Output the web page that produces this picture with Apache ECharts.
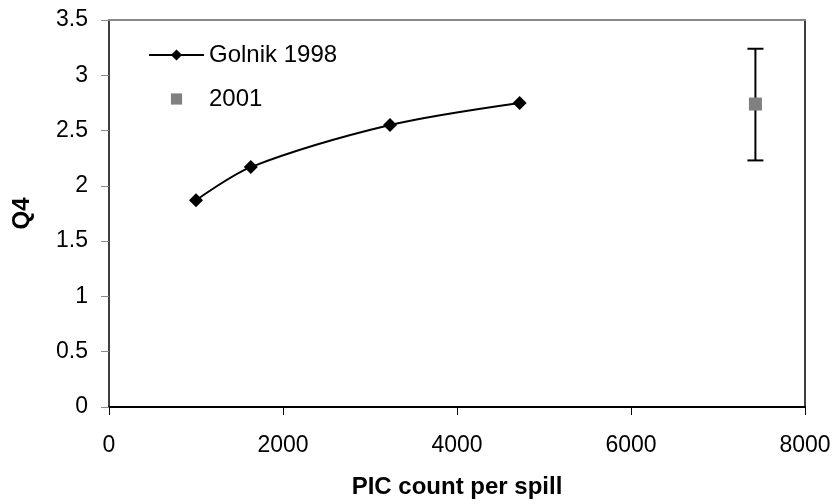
<!DOCTYPE html>
<html>
<head>
<meta charset="utf-8">
<script src="https://cdn.jsdelivr.net/npm/echarts@6/dist/echarts.min.js"></script>
<style>
  html, body { margin: 0; padding: 0; background: #fff; }
  #main { width: 835px; height: 504px; }
</style>
</head>
<body>
<div id="main"></div>
<script>
// values
var golnikX = [1000, 1630, 3230, 4720];
var golnikQ4 = [1.87, 2.17, 2.55, 2.75];
var run2001X = [7430];
var run2001Q4 = [2.74];
var run2001Low = [2.23];
var run2001High = [3.24];

var font = 'Liberation Sans, Arial, sans-serif';

var chart = echarts.init(document.getElementById('main'));

var option = {
    backgroundColor: '#fff',
    animation: false,
    textStyle: { fontFamily: font },
    grid: { left: 109, right: 30, top: 20, bottom: 97, show: false },
    legend: {
        orient: 'vertical',
        left: 143,
        top: 38,
        itemGap: 20,
        itemWidth: 55,
        itemHeight: 14,
        textStyle: { fontSize: 24, color: '#000', fontFamily: font },
        data: ['Golnik 1998', '2001']
    },
    xAxis: [{
        type: 'value',
        min: 0, max: 8000, interval: 2000,
        name: 'PIC count per spill',
        nameLocation: 'middle',
        nameGap: 68,
        nameTextStyle: { fontSize: 24, fontWeight: 'bold', color: '#000', fontFamily: font },
        axisLine: { show: true, onZero: false, lineStyle: { color: '#000', width: 2 } },
        axisTick: { show: true, length: 8, lineStyle: { color: '#000' } },
        axisLabel: { fontSize: 23, color: '#000', margin: 27, fontFamily: font,
            formatter: function (v) { return String(v); } },
        splitLine: { show: false }
    }, {
        type: 'value', position: 'top',
        min: 0, max: 8000,
        axisLine: { show: true, onZero: false, lineStyle: { color: '#888', width: 2 } },
        axisTick: { show: false }, axisLabel: { show: false }, splitLine: { show: false }
    }],
    yAxis: [{
        type: 'value',
        min: 0, max: 3.5, interval: 0.5,
        name: 'Q4',
        nameLocation: 'middle',
        nameGap: 75,
        nameRotate: 90,
        nameTextStyle: { fontSize: 24, fontWeight: 'bold', color: '#000', fontFamily: font },
        axisLine: { show: true, onZero: false, lineStyle: { color: '#000', width: 1.5 } },
        axisTick: { show: true, length: 8, lineStyle: { color: '#888' } },
        axisLabel: { fontSize: 23, color: '#000', margin: 21, fontFamily: font },
        splitLine: { show: false }
    }, {
        type: 'value', position: 'right',
        min: 0, max: 3.5,
        axisLine: { show: true, onZero: false, lineStyle: { color: '#000', width: 1.5 } },
        axisTick: { show: false }, axisLabel: { show: false }, splitLine: { show: false }
    }],
    series: [{
        name: 'Golnik 1998',
        type: 'line',
        smooth: 0.3,
        symbol: 'diamond',
        symbolSize: 14,
        itemStyle: { color: '#000' },
        lineStyle: { color: '#000', width: 2 },
        data: golnikX.map(function (x, i) { return [x, golnikQ4[i]]; })
    }, {
        name: '2001',
        type: 'line',
        symbol: 'rect',
        symbolSize: 13,
        showAllSymbol: true,
        itemStyle: { color: '#808080', opacity: 1 },
        lineStyle: { width: 0, opacity: 0 },
        data: run2001X.map(function (x, i) { return [x, run2001Q4[i]]; }),
        z: 3
    }, {
        name: '2001 range',
        type: 'custom',
        renderItem: function (params, api) {
            var x = api.value(0);
            var hi = api.coord([x, api.value(2)]);
            var lo = api.coord([x, api.value(1)]);
            var w = 8;
            var style = { stroke: '#000', lineWidth: 2 };
            return {
                type: 'group',
                children: [
                    { type: 'line', shape: { x1: hi[0], y1: hi[1], x2: lo[0], y2: lo[1] }, style: style },
                    { type: 'line', shape: { x1: hi[0] - w, y1: hi[1], x2: hi[0] + w, y2: hi[1] }, style: style },
                    { type: 'line', shape: { x1: lo[0] - w, y1: lo[1], x2: lo[0] + w, y2: lo[1] }, style: style }
                ]
            };
        },
        data: run2001X.map(function (x, i) { return [x, run2001Low[i], run2001High[i]]; }),
        z: 2
    }]
};

chart.setOption(option);
</script>
</body>
</html>
